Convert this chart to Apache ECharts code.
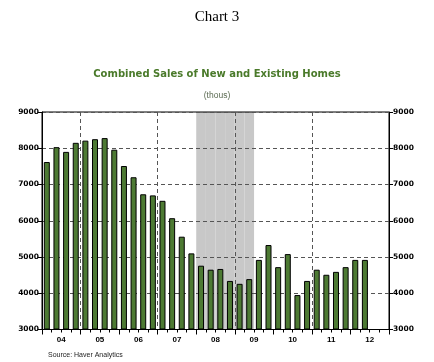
<!DOCTYPE html>
<html><head><meta charset="utf-8">
<script src="https://cdn.jsdelivr.net/npm/echarts@6/dist/echarts.min.js"></script>
<style>html,body{margin:0;padding:0;background:#fff}#c{width:434px;height:362px}</style>
</head><body><div id="c"></div>
<script>
var quarters = [];
var yearsShort = ['04','05','06','07','08','09','10','11','12'];
for (var y = 2004; y <= 2012; y++) for (var q = 1; q <= 4; q++) quarters.push(y + 'Q' + q);
var sales = [
  7620, 8030, 7900, 8150,
  8210, 8250, 8280, 7960,
  7510, 7200, 6730, 6700,
  6550, 6070, 5560, 5100,
  4760, 4650, 4670, 4340,
  4260, 4390, 4920, 5330,
  4720, 5080, 3950, 4340,
  4650, 4510, 4590, 4720,
  4920, 4920
];
var recessionQuarters = ['2008Q1','2008Q2','2008Q3','2008Q4','2009Q1','2009Q2'];
var yTicks = [3000, 4000, 5000, 6000, 7000, 8000, 9000];
var gridYearStarts = ['2005Q1','2007Q1','2009Q1','2011Q1'];

var recession = quarters.map(function (q) { return recessionQuarters.indexOf(q) >= 0 ? yTicks[yTicks.length - 1] : '-'; });

var chart = echarts.init(document.getElementById('c'), null, {renderer: 'canvas'});
var yLabel = {fontFamily: 'DejaVu Sans', fontWeight: 'bold', fontSize: 7.5, color: '#000', formatter: function (v) { return String(v); }};
var dash = {color: '#555', type: [4, 3], width: 1};
chart.setOption({
  animation: false,
  title: [
    {text: 'Chart 3', left: 'center', top: 5, textStyle: {fontFamily: 'Liberation Serif', fontWeight: 'normal', fontSize: 15, color: '#000'}},
    {text: 'Combined Sales of New and Existing Homes', left: 'center', top: 64, textStyle: {fontFamily: 'DejaVu Sans', fontWeight: 'bold', fontSize: 10, color: '#4a7a2a'}},
    {text: '(thous)', left: 'center', top: 86, textStyle: {fontFamily: 'Liberation Sans', fontWeight: 'normal', fontSize: 8.5, color: '#5b6b52'}},
    {text: 'Source: Haver Analytics', left: 43, top: 347, textStyle: {fontFamily: 'Liberation Sans', fontWeight: 'normal', fontSize: 7, color: '#222'}}
  ],
  grid: {left: 42, right: 45, top: 112, bottom: 32.5, show: true, borderColor: '#000', borderWidth: 1, backgroundColor: 'transparent'},
  xAxis: [
    {type: 'category', data: quarters, position: 'bottom', boundaryGap: true,
     axisLine: {lineStyle: {color: '#000', width: 1}},
     axisTick: {show: true, length: 5, lineStyle: {color: '#000'}, interval: function (i) { return i % 4 === 0; }},
     axisLabel: {show: false},
     splitLine: {show: true, lineStyle: dash, interval: function (i, v) { return gridYearStarts.indexOf(v) >= 0; }}},
    {type: 'category', data: quarters, position: 'bottom', boundaryGap: true,
     axisLine: {show: false},
     axisTick: {show: true, length: 3, interval: 0, lineStyle: {color: '#000'}},
     axisLabel: {show: false}, splitLine: {show: false}},
    {type: 'category', data: yearsShort, position: 'bottom', boundaryGap: true,
     axisLine: {show: false}, axisTick: {show: false},
     axisLabel: {show: true, margin: 6, fontFamily: 'Liberation Sans', fontWeight: 'bold', fontSize: 8, color: '#000', interval: 0},
     splitLine: {show: false}}
  ],
  yAxis: [
    {type: 'value', position: 'left', min: 3000, max: 9000, interval: 1000, startValue: 3000,
     axisLine: {show: true, lineStyle: {color: '#000'}},
     axisTick: {show: true, length: 4, lineStyle: {color: '#000'}},
     axisLabel: Object.assign({margin: 3}, yLabel),
     splitLine: {show: true, lineStyle: dash}},
    {type: 'value', position: 'right', min: 3000, max: 9000, interval: 1000, startValue: 3000,
     axisLine: {show: true, lineStyle: {color: '#000'}},
     axisTick: {show: true, length: 4, lineStyle: {color: '#000'}},
     axisLabel: Object.assign({margin: 4}, yLabel),
     splitLine: {show: false}}
  ],
  series: [
    {type: 'bar', name: 'Recession', xAxisIndex: 1, yAxisIndex: 0, data: recession, barWidth: '100%', z: -1,
     itemStyle: {color: '#c8c8c8'}, silent: true},
    {type: 'bar', name: 'Sales', xAxisIndex: 0, yAxisIndex: 0, data: sales, barWidth: 6, z: 3,
     itemStyle: {color: '#4d7a33', borderColor: '#000', borderWidth: 1}}
  ]
});
</script></body></html>
